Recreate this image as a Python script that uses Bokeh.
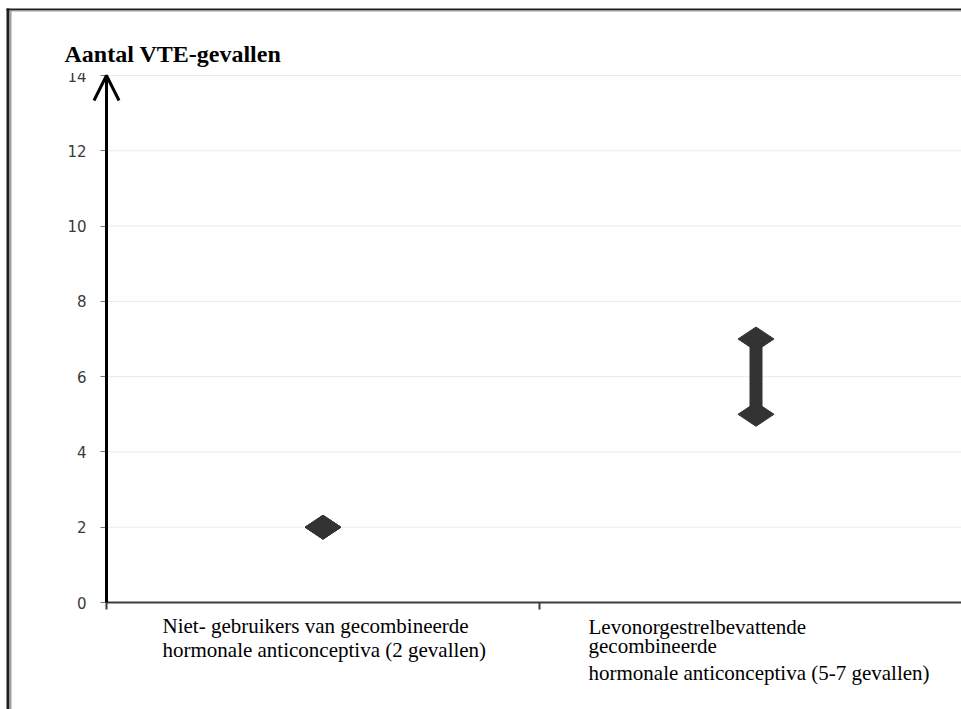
from bokeh.plotting import figure
from bokeh.models import (Range1d, FixedTicker, Label, BoxAnnotation, Arrow, OpenHead,
                          ColumnDataSource)
from bokeh.embed import file_html
from bokeh.resources import INLINE
import math

# ---- data ----
categories = ["Niet- gebruikers van gecombineerde hormonale anticonceptiva (2 gevallen)",
              "Levonorgestrelbevattende gecombineerde hormonale anticonceptiva (5-7 gevallen)"]
cat_pos = [0.5, 1.5]
low_values = [2, 5]
high_values = [2, 7]
y_ticks = [0, 2, 4, 6, 8, 10, 12, 14]
x_ticks = [0, 1, 2]
title_text = "Aantal VTE-gevallen"
label_lines_1 = ["Niet- gebruikers van gecombineerde", "hormonale anticonceptiva (2 gevallen)"]
label_lines_2 = ["Levonorgestrelbevattende", "gecombineerde", "hormonale anticonceptiva (5-7 gevallen)"]

# ---- layout (pixels) ----
W, H = 961, 709
AX_X, TOP_Y, AX_Y = 106, 75, 602      # y-axis x, top (14) y, x-axis y
PX_PER_X = 433.0
PX_PER_Y = (AX_Y - TOP_Y) / 14.0
TXT_SHIFT = -7

def dx(px):
    return (px - AX_X) / PX_PER_X

def dy(py):
    return (AX_Y - py) / PX_PER_Y

p = figure(width=W, height=H, output_backend="svg", toolbar_location=None,
           x_range=Range1d(dx(0), dx(W)), y_range=Range1d(dy(H), dy(0)),
           min_border=0)
p.outline_line_color = None
p.background_fill_color = "white"
p.border_fill_color = "white"

# grid (light horizontal lines from the y axis to the right)
p.xgrid.visible = False
p.ygrid.visible = False
p.segment(x0=[0] * (len(y_ticks) - 1), x1=[dx(W)] * (len(y_ticks) - 1),
          y0=y_ticks[1:], y1=y_ticks[1:], line_color="#ebebeb", line_width=1)

# x axis (fixed at y=0)
xa = p.xaxis[0]
xa.fixed_location = 0
xa.bounds = (0, dx(W))
xa.ticker = FixedTicker(ticks=x_ticks)
xa.major_label_overrides = {t: "" for t in x_ticks}
xa.axis_line_color = "#3c3c3c"
xa.axis_line_width = 2
xa.major_tick_line_color = "#3c3c3c"
xa.major_tick_line_width = 2
xa.major_tick_out = 7
xa.major_tick_in = 0
xa.minor_tick_line_color = None

# y axis (fixed at x=0)
ya = p.yaxis[0]
ya.fixed_location = 0
ya.bounds = (0, 14)
ya.ticker = FixedTicker(ticks=y_ticks)
ya.axis_line_color = None
ya.major_tick_line_color = "#777777"
ya.major_tick_out = 6
ya.major_tick_in = 0
ya.minor_tick_line_color = None
ya.major_label_text_font = "DejaVu Sans"
ya.major_label_text_font_size = "15px"
ya.major_label_text_color = "#3a3a3a"
ya.major_label_standoff = 14

# y axis arrow
p.add_layout(Arrow(x_start=0, y_start=0, x_end=0, y_end=14, line_width=3, line_color="black",
                   end=OpenHead(size=25, line_width=3, line_color="black")))

# data marks
src = ColumnDataSource(dict(x=cat_pos, lo=low_values, hi=high_values))
p.segment(x0="x", y0="lo", x1="x", y1="hi", source=src, line_width=13, line_color="#333333")
p.scatter(x="x", y="lo", source=src, marker="diamond", angle=math.pi / 2, size=36,
          fill_color="#333333", line_color="#333333")
p.scatter(x="x", y="hi", source=src, marker="diamond", angle=math.pi / 2, size=36,
          fill_color="#333333", line_color="#333333")

# white box clipping top of "14" label, then the title
p.add_layout(BoxAnnotation(left=dx(12), right=dx(104), top=dy(12), bottom=dy(72.5),
                           fill_color="white", fill_alpha=1, line_color=None, level="overlay"))
p.add_layout(Label(x=dx(64), y=dy(60 + TXT_SHIFT), text=title_text, text_font="Liberation Serif",
                   text_font_style="bold", text_font_size="24px", text_color="black",
                   text_baseline="alphabetic", level="overlay"))

# category labels
for txt, py in zip(label_lines_1, [632, 656]):
    p.add_layout(Label(x=dx(162), y=dy(py + TXT_SHIFT), text=txt, text_font="Liberation Serif",
                       text_font_size="21px", text_color="black", text_baseline="alphabetic"))
for txt, py in zip(label_lines_2, [633, 652, 679]):
    p.add_layout(Label(x=dx(588), y=dy(py + TXT_SHIFT), text=txt, text_font="Liberation Serif",
                       text_font_size="21px", text_color="black", text_baseline="alphabetic"))

# outer border (left and top)
p.add_layout(BoxAnnotation(left=dx(6), right=dx(9), top=dy(8), bottom=dy(H + 5),
                           fill_color="#1e1e1e", fill_alpha=1, line_color=None, level="overlay"))
p.add_layout(BoxAnnotation(left=dx(9), right=dx(11), top=dy(10), bottom=dy(H + 5),
                           fill_color="#a0a0a0", fill_alpha=1, line_color=None, level="overlay"))
p.add_layout(BoxAnnotation(left=dx(6), right=dx(W + 5), top=dy(8), bottom=dy(10),
                           fill_color="#1e1e1e", fill_alpha=1, line_color=None, level="overlay"))
p.add_layout(BoxAnnotation(left=dx(9), right=dx(W + 5), top=dy(10), bottom=dy(11),
                           fill_color="#a0a0a0", fill_alpha=1, line_color=None, level="overlay"))

open("out.html", "w").write(file_html(p, INLINE))
